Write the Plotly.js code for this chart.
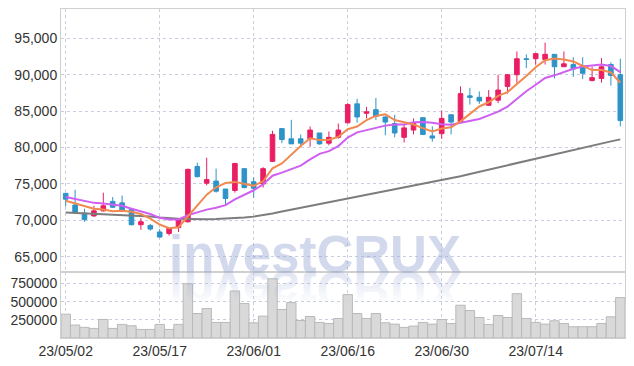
<!DOCTYPE html>
<html><head><meta charset="utf-8">
<script src="https://cdn.plot.ly/plotly-3.0.1.min.js"></script>
<style>html,body{margin:0;padding:0;background:#fff;}#chart{width:634px;height:366px;}</style>
</head><body><div id="chart"></div>
<script>
const dates = ["23/05/02","23/05/03","23/05/04","23/05/08","23/05/09","23/05/10","23/05/11","23/05/12","23/05/15","23/05/16",
"23/05/17","23/05/18","23/05/19","23/05/22","23/05/23","23/05/24","23/05/25","23/05/26","23/05/30","23/05/31",
"23/06/01","23/06/02","23/06/05","23/06/07","23/06/08","23/06/09","23/06/12","23/06/13","23/06/14","23/06/15",
"23/06/16","23/06/19","23/06/20","23/06/21","23/06/22","23/06/23","23/06/26","23/06/27","23/06/28","23/06/29",
"23/06/30","23/07/03","23/07/04","23/07/05","23/07/06","23/07/07","23/07/10","23/07/11","23/07/12","23/07/13",
"23/07/14","23/07/17","23/07/18","23/07/19","23/07/20","23/07/21","23/07/24","23/07/25","23/07/26","23/07/27"];

const openP = [73700,72100,71000,70600,71300,72600,72400,71500,69400,69300,
68400,68200,69000,69800,77400,75100,75400,74300,74100,77100,
75300,75000,78100,82600,81200,81200,81200,82000,80600,81400,
83400,86000,84700,85200,84200,83300,81400,82400,84100,81600,
81900,84500,83500,87100,86900,85800,86500,88400,90000,92200,
92200,92100,92800,91100,91400,91200,89200,89500,91400,90000];

const highP = [73800,74200,71600,72000,73800,73200,73400,71600,70300,69500,
68800,69000,70200,77100,77900,78600,77100,74300,77900,77100,
75900,77300,82300,82600,83800,81800,82900,82000,82200,83300,
86100,86700,85600,86800,84300,84500,83100,84000,84200,82900,
85100,84500,88400,88200,87700,87900,90000,90100,93200,92800,
93000,94400,92800,93200,92400,92400,91100,92300,91700,92200];

const lowP = [71900,70900,69800,70500,71200,71700,71300,69300,68700,68600,
67600,67900,68400,69700,75900,74800,73800,72100,73800,74400,
73100,74500,78000,80600,80500,80100,80100,80400,80300,81200,
83300,83400,84000,83800,81700,81400,80700,81800,81700,80800,
81200,81800,83300,85900,86000,85700,86100,87400,88900,90900,
91400,91400,89500,91100,89700,89400,89100,88900,88500,82900];

const closeP = [72900,71100,70100,71300,72000,71800,71400,69400,69800,68800,
67700,68900,70100,77000,76000,75600,74000,73000,77800,74500,
74400,77100,81800,81100,80500,80600,82400,80500,81400,82400,
85900,84200,84900,84300,83500,82000,82700,83300,81800,81300,
84000,83500,87400,86900,86400,86900,87900,90000,92200,92100,
92900,92800,91100,91500,90800,90200,89600,91100,89900,83700];

const ma5 = [72700,72300,71900,71600,71480,71260,71320,71180,70880,70240,
69420,68920,69060,70500,71940,73520,74540,75120,75280,74980,
74740,75360,77140,77820,79040,80200,81280,81020,81080,81460,
82520,82880,83760,84340,84560,83780,83480,83160,82660,82220,
82620,82780,83600,84620,85640,86220,87100,87620,88680,89820,
91020,92000,92220,92080,91820,91280,90640,90640,90320,88900];

const ma10 = [73200,72900,72600,72400,72300,72100,72000,71600,71200,70860,
70340,70120,70120,70690,71090,71470,71730,72090,72890,73460,
74130,74950,76130,76550,77010,77520,78370,79130,79500,80200,
81360,82080,82390,82710,83010,83150,83180,83460,83500,83390,
83200,83130,83380,83640,83930,84420,84940,85610,86650,87730,
88620,89550,89920,90380,90820,91140,91310,91420,91190,90350];

const ma60 = [71060,71010,70950,70910,70860,70800,70760,70700,70650,70520,
70400,70290,70230,70190,70150,70160,70190,70230,70300,70380,
70510,70700,70950,71210,71460,71730,71970,72220,72490,72740,
73000,73250,73500,73760,74010,74270,74520,74770,75030,75280,
75540,75750,76050,76370,76670,76980,77280,77600,77900,78210,
78510,78830,79130,79440,79700,79990,80270,80560,80850,81120];

const volume = [328000,178000,146000,132000,255000,132000,187000,168000,118000,118000,
187000,118000,187000,747000,337000,405000,214000,214000,647000,474000,
209000,301000,815000,392000,487000,241000,296000,214000,200000,269000,
597000,337000,269000,337000,209000,191000,146000,164000,214000,191000,
255000,200000,451000,378000,282000,187000,310000,282000,610000,269000,
214000,191000,237000,200000,155000,155000,155000,200000,291000,556000];

const tickDates = dates.filter((d, i) => i % 10 === 0);
const priceTicks = [65000, 70000, 75000, 80000, 85000, 90000, 95000];
const volTicks = [250000, 500000, 750000];

const TICKFONT = {family: "'Liberation Sans', Arial, sans-serif", size: 14, color: '#333'};
const GRID = '#c9cde0';
const FRAME = '#cfcfcf';

const traces = [
  {type: 'bar', x: dates, y: volume, xaxis: 'x', yaxis: 'y2',
   marker: {color: '#d9d9d9', line: {color: '#b9b9b9', width: 1}}, hoverinfo: 'skip'},
  {type: 'candlestick', x: dates, open: openP, high: highP, low: lowP, close: closeP,
   xaxis: 'x', yaxis: 'y', whiskerwidth: 0,
   increasing: {line: {color: '#e91e63', width: 1}, fillcolor: '#e91e63'},
   decreasing: {line: {color: '#2e93c8', width: 1}, fillcolor: '#2e93c8'},
   hoverinfo: 'skip'},
  {type: 'scatter', mode: 'lines', x: dates, y: ma60, xaxis: 'x', yaxis: 'y',
   line: {color: '#7d7d7d', width: 2}, hoverinfo: 'skip'},
  {type: 'scatter', mode: 'lines', x: dates, y: ma10, xaxis: 'x', yaxis: 'y',
   line: {color: '#cf5ff0', width: 2}, hoverinfo: 'skip'},
  {type: 'scatter', mode: 'lines', x: dates, y: ma5, xaxis: 'x', yaxis: 'y',
   line: {color: '#f08a50', width: 2}, hoverinfo: 'skip'}
];

const axisCommon = {
  showgrid: true, gridcolor: GRID, griddash: 'dot', gridwidth: 1,
  showline: true, linecolor: FRAME, linewidth: 1, zeroline: false,
  ticks: '', tickfont: TICKFONT, fixedrange: true
};

const layout = {
  width: 634, height: 366,
  margin: {l: 61, r: 9, t: 9, b: 28},
  paper_bgcolor: '#ffffff', plot_bgcolor: '#ffffff',
  showlegend: false, bargap: 0,
  xaxis: Object.assign({}, axisCommon, {
    type: 'category', anchor: 'y2', range: [-0.5, 59.5],
    tickvals: tickDates, ticktext: tickDates, mirror: 'all',
    rangeslider: {visible: false}
  }),
  yaxis: Object.assign({}, axisCommon, {
    domain: [0.2021, 1], range: [62970, 99030], anchor: 'x',
    tickvals: priceTicks, tickformat: ',d', mirror: true
  }),
  yaxis2: Object.assign({}, axisCommon, {
    domain: [0, 0.2021], range: [0, 915000], anchor: 'x',
    tickvals: volTicks, tickformat: 'd', mirror: true
  }),
  annotations: [{
    text: '<b>investCRUX</b>', xref: 'paper', yref: 'paper',
    x: 0.4504, y: 0.161, xanchor: 'center', yanchor: 'bottom', showarrow: false,
    font: {family: "'Liberation Sans', Arial, sans-serif", size: 51, color: 'rgba(150,165,210,0.42)'}
  }]
};

Plotly.newPlot('chart', traces, layout, {staticPlot: true, displayModeBar: false}).then(gd => {
  const t = gd.querySelector('.annotation-text');
  if (!t) return;
  const svgs = gd.querySelectorAll('.main-svg');
  const topSvg = svgs[svgs.length - 1];
  const host = gd.getBoundingClientRect();
  const r = t.getBoundingClientRect();
  const size = 51;
  const baseline = r.bottom - host.top - 0.212 * size;
  const cx = (r.left + r.right) / 2 - host.left;
  const NS = 'http://www.w3.org/2000/svg';
  const defs = document.createElementNS(NS, 'defs');
  defs.innerHTML = '<linearGradient id="wmfade" x1="0" y1="0" x2="0" y2="1">' +
    '<stop offset="0.25" stop-color="rgb(150,165,210)" stop-opacity="0"/>' +
    '<stop offset="1" stop-color="rgb(150,165,210)" stop-opacity="0.4"/></linearGradient>';
  topSvg.appendChild(defs);
  const tx = document.createElementNS(NS, 'text');
  tx.textContent = 'investCRUX';
  tx.setAttribute('x', 0);
  tx.setAttribute('y', 0);
  tx.setAttribute('text-anchor', 'middle');
  tx.setAttribute('transform', 'translate(' + cx + ',' + baseline + ') scale(1,-1)');
  tx.setAttribute('style', "font-family:'Liberation Sans', Arial, sans-serif;font-size:" + size + "px;font-weight:bold;fill:url(#wmfade)");
  topSvg.appendChild(tx);
});
</script>
</body></html>
